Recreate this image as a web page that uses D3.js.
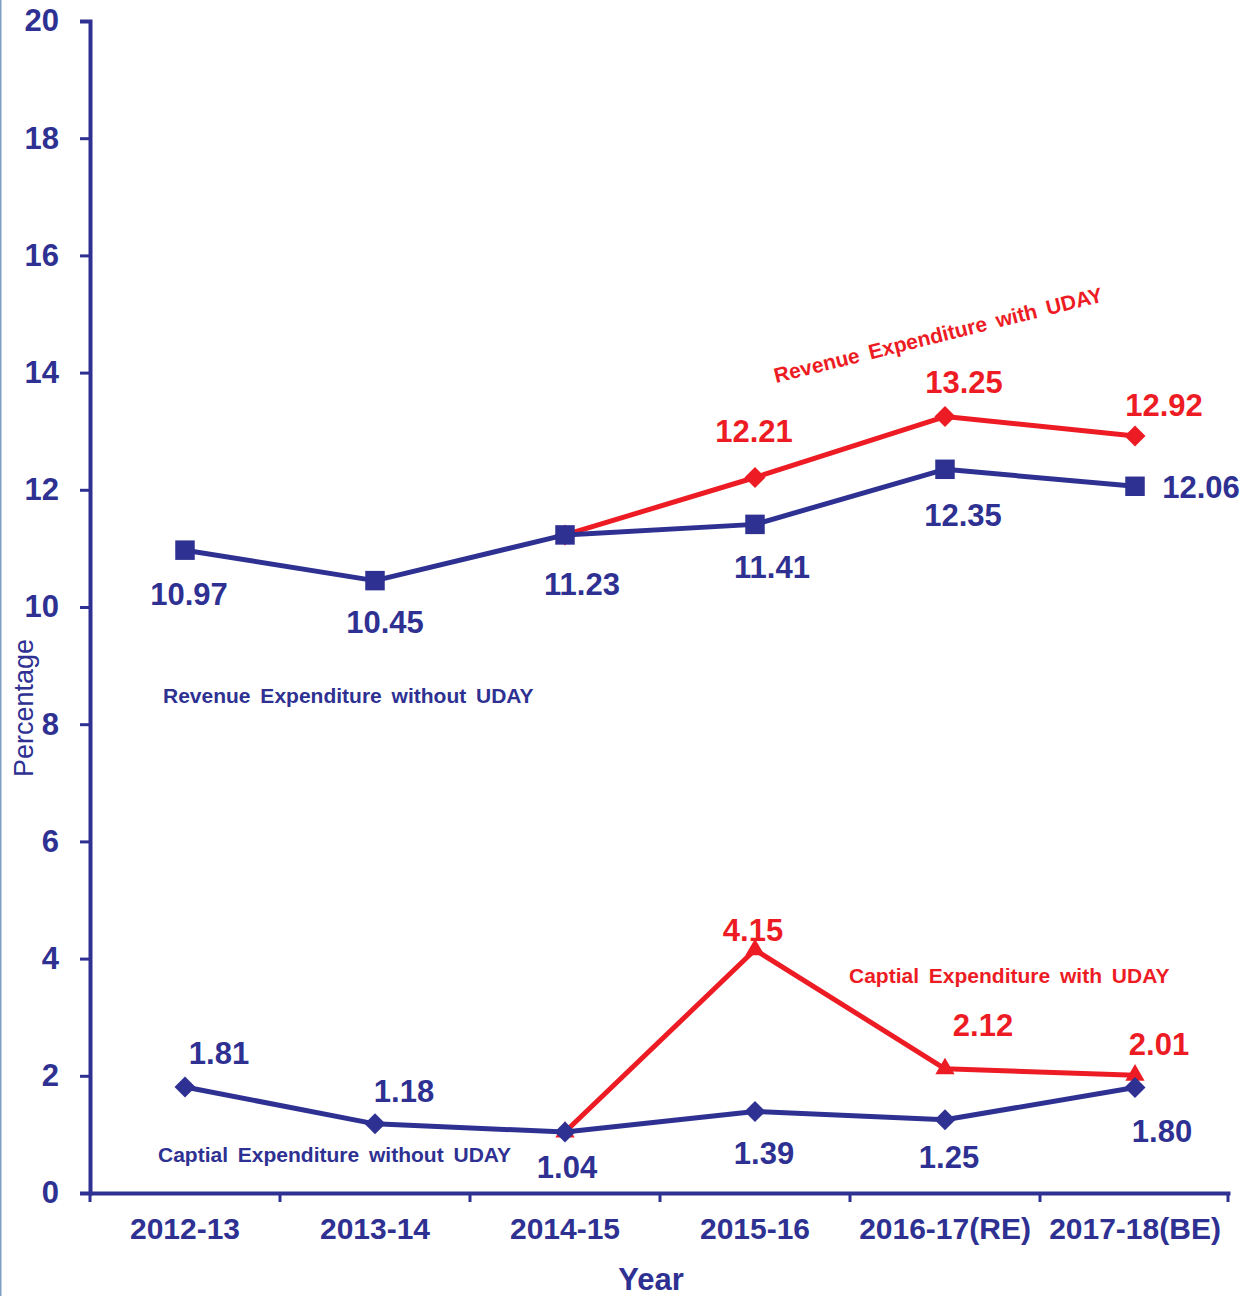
<!DOCTYPE html>
<html>
<head>
<meta charset="utf-8">
<script src="https://cdn.jsdelivr.net/npm/d3@7"></script>
<style>
  body { margin: 0; background: #fff; }
  svg { display: block; font-family: "Liberation Sans", Arial, sans-serif; }
</style>
</head>
<body>
<script>
// chart values
var years = ["2012-13", "2013-14", "2014-15", "2015-16", "2016-17(RE)", "2017-18(BE)"];
var revenueWithout = [10.97, 10.45, 11.23, 11.41, 12.35, 12.06];
var revenueWith = [null, null, 11.23, 12.21, 13.25, 12.92];
var capitalWithout = [1.81, 1.18, 1.04, 1.39, 1.25, 1.80];
var capitalWith = [null, null, 1.04, 4.15, 2.12, 2.01];
var yTicks = [0, 2, 4, 6, 8, 10, 12, 14, 16, 18, 20];

var blue = "#2E3192";
var red = "#ED1C24";

var width = 1252, height = 1296;

var svg = d3.select("body").append("svg")
    .attr("width", width)
    .attr("height", height);

// thin border on the left edge
svg.append("line")
    .attr("x1", 0.75).attr("x2", 0.75)
    .attr("y1", 0).attr("y2", height)
    .attr("stroke", "#7f9fc4").attr("stroke-width", 1.5);

var x = d3.scaleBand().domain(years).range([90, 1230]);
var y = d3.scaleLinear().domain([0, 20]).range([1193, 21]);

// y axis
var yAxis = svg.append("g")
    .attr("transform", "translate(90,0)")
    .call(d3.axisLeft(y).tickValues(yTicks).tickSize(10).tickPadding(21).tickFormat(d3.format("d")));
yAxis.select(".domain").attr("stroke", blue).attr("stroke-width", 4);
yAxis.selectAll(".tick line").attr("stroke", blue).attr("stroke-width", 3);
yAxis.selectAll(".tick text")
    .attr("fill", blue)
    .style("font-size", "31px")
    .style("font-weight", "bold")
    .style("font-family", "'Liberation Sans', Arial, sans-serif");

// x axis, labels centred in the bands
var xAxis = svg.append("g")
    .attr("transform", "translate(0,1193)")
    .call(d3.axisBottom(x).tickSize(0).tickPadding(25));
xAxis.select(".domain").attr("stroke", blue).attr("stroke-width", 4);
xAxis.selectAll(".tick text")
    .attr("fill", blue)
    .style("font-size", "30px")
    .style("font-weight", "bold")
    .style("font-family", "'Liberation Sans', Arial, sans-serif");

// tick marks on the band boundaries
var bounds = years.map(function(d) { return x(d); }).concat([x.range()[1] - 2]);
svg.selectAll(".xtick")
    .data(bounds)
    .enter()
    .append("line")
    .attr("class", "xtick")
    .attr("x1", function(d) { return d; })
    .attr("x2", function(d) { return d; })
    .attr("y1", 1193)
    .attr("y2", 1202)
    .attr("stroke", blue)
    .attr("stroke-width", 3);

// axis titles
svg.append("text")
    .attr("x", 651).attr("y", 1290)
    .attr("text-anchor", "middle")
    .attr("fill", blue)
    .style("font-size", "31px")
    .style("font-weight", "bold")
    .text("Year");

svg.append("text")
    .attr("transform", "translate(33,708) rotate(-90)")
    .attr("text-anchor", "middle")
    .attr("fill", blue)
    .style("font-size", "27px")
    .text("Percentage");

var cx = function(i) { return x(years[i]) + x.bandwidth() / 2; };

var line = d3.line()
    .defined(function(d) { return d != null; })
    .x(function(d, i) { return cx(i); })
    .y(function(d) { return y(d); });

// series: red drawn first so blue sits on top
var series = [
  { values: revenueWith, color: red, symbol: d3.symbolSquare, size: 220, rotate: 45,
    offsets: [null, null, null, [-1, -35], [19, -24], [29, -20]] },
  { values: capitalWith, color: red, symbol: d3.symbolTriangle, size: 160, rotate: 0,
    offsets: [null, null, null, [-2, -9], [38, -33], [24, -20]] },
  { values: revenueWithout, color: blue, symbol: d3.symbolSquare, size: 380, rotate: 0,
    offsets: [[4, 55], [10, 52], [17, 60], [17, 54], [18, 57], [66, 12]] },
  { values: capitalWithout, color: blue, symbol: d3.symbolSquare, size: 220, rotate: 45,
    offsets: [[34, -23], [29, -22], [2, 46], [9, 52], [4, 48], [27, 54]] }
];

series.forEach(function(s) {
  svg.append("path")
      .datum(s.values)
      .attr("d", line)
      .attr("fill", "none")
      .attr("stroke", s.color)
      .attr("stroke-width", 5)
      .attr("stroke-linejoin", "round");

  var pts = s.values.map(function(v, i) { return { v: v, i: i }; })
      .filter(function(d) { return d.v != null; });

  svg.selectAll(null)
      .data(pts)
      .enter()
      .append("path")
      .attr("d", d3.symbol().type(s.symbol).size(s.size))
      .attr("transform", function(d) {
        return "translate(" + cx(d.i) + "," + y(d.v) + ") rotate(" + s.rotate + ")";
      })
      .attr("fill", s.color);
});

// value labels
series.forEach(function(s) {
  var pts = s.values.map(function(v, i) { return { v: v, i: i }; })
      .filter(function(d) { return d.v != null && s.offsets[d.i] != null; });

  svg.selectAll(null)
      .data(pts)
      .enter()
      .append("text")
      .attr("x", function(d) { return cx(d.i) + s.offsets[d.i][0]; })
      .attr("y", function(d) { return y(d.v) + s.offsets[d.i][1]; })
      .attr("text-anchor", "middle")
      .attr("fill", s.color)
      .style("font-size", "31px")
      .style("font-weight", "bold")
      .text(function(d) { return d3.format(".2f")(d.v); });
});

// series names
var notes = [
  { text: "Revenue Expenditure without UDAY", x: 163, y: 703, color: blue, rot: 0 },
  { text: "Captial Expenditure without UDAY", x: 158, y: 1162, color: blue, rot: 0 },
  { text: "Captial Expenditure with UDAY", x: 849, y: 983, color: red, rot: 0 },
  { text: "Revenue Expenditure with UDAY", x: 776, y: 383, color: red, rot: -14 }
];

svg.selectAll(".note")
    .data(notes)
    .enter()
    .append("text")
    .attr("class", "note")
    .attr("transform", function(d) { return "translate(" + d.x + "," + d.y + ") rotate(" + d.rot + ")"; })
    .attr("fill", function(d) { return d.color; })
    .style("font-size", "21px")
    .style("font-weight", "bold")
    .style("word-spacing", "4px")
    .text(function(d) { return d.text; });
</script>
</body>
</html>
